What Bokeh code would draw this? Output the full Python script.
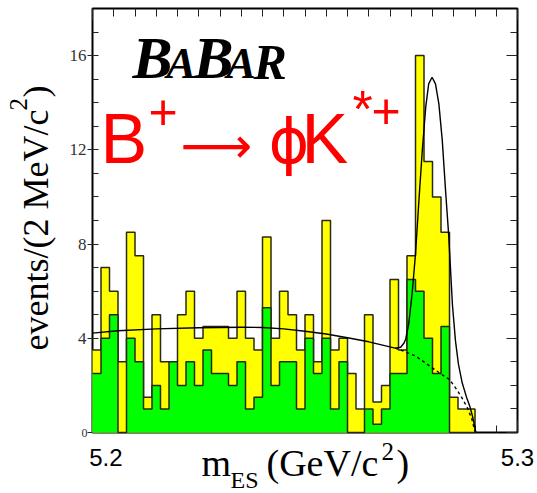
import math
import numpy as np
from bokeh.plotting import figure
from bokeh.models import Range1d, FixedTicker, LinearAxis, Label
from bokeh.embed import file_html
from bokeh.resources import INLINE

# ---------------- data ----------------
bin_lo = 5.200          # GeV/c^2
bin_width = 0.002       # 2 MeV/c^2
n_bins = 45

# all candidates (yellow)
yellow_counts = [3.5, 7, 6, 3, 8.5, 7.5, 1.5, 5, 3, 3,
                 5, 6, 4, 4.5, 4.5, 4.5, 4, 6, 4, 3.5,
                 8.3, 4, 6, 5, 3.5, 5, 3, 9, 3.5, 4,
                 2.5, 1, 5, 1.3, 2, 6.5, 3.5, 7.5, 16, 11.5,
                 10, 8.5, 1.5, 1, 1]
# subset (green)
green_counts = [2.5, 4, 5, 0, 4, 3, 1, 2, 1, 3,
                2, 3, 2, 3.5, 2.5, 2.5, 2, 3, 1, 1.5,
                5.3, 2, 3, 3, 1, 4, 2.5, 4, 1, 3,
                0, 0, 1, 0.35, 1, 2.5, 2.5, 6.5, 6, 4,
                2.5, 4.5, 0, 0, 0]

# fit: total (solid)
fit_mass = [5.2000, 5.2060, 5.2150, 5.2250, 5.2350, 5.2400, 5.2450, 5.2500, 5.2550, 5.2600,
            5.2650, 5.2690, 5.2712, 5.2725, 5.2733, 5.2737, 5.2744, 5.2752, 5.2760, 5.2768,
            5.2776, 5.2784, 5.2791, 5.2799, 5.2807, 5.2815, 5.2823, 5.2831, 5.2838, 5.2847,
            5.2854, 5.2861, 5.2870, 5.2880, 5.2888, 5.2894, 5.2900, 5.2902]
fit_total = [4.22, 4.32, 4.40, 4.45, 4.47, 4.46, 4.40, 4.30, 4.18, 4.02,
             3.85, 3.68, 3.58, 3.62, 3.80, 3.97, 4.60, 5.88, 7.58, 9.84,
             11.97, 13.80, 14.80, 15.08, 14.80, 13.95, 12.40, 10.20, 8.40, 5.40,
             3.90, 2.90, 2.10, 1.50, 1.10, 0.70, 0.20, 0.00]
# fit: background only (dashed)
bkg_mass = [5.2712, 5.2725, 5.2760, 5.2795, 5.2823, 5.2840, 5.2858, 5.2870, 5.2882, 5.2892, 5.2900]
bkg_only = [3.58, 3.50, 3.25, 2.80, 2.45, 2.25, 1.80, 1.45, 1.05, 0.60, 0.05]

y_major_ticks = [0, 4, 8, 12, 16]
y_minor_ticks = [1, 2, 3, 5, 6, 7, 9, 10, 11, 13, 14, 15, 17]
x_major_ticks = [5.2, 5.3]
x_minor_ticks = [5.205, 5.21, 5.215, 5.22, 5.225, 5.23, 5.235, 5.24, 5.245, 5.25,
                 5.255, 5.26, 5.265, 5.27, 5.275, 5.28, 5.285, 5.29, 5.295]
x_tick_labels = {5.2: "\u00a0\u00a0\u00a0\u00a05.2", 5.3: "5.3"}
y_tick_labels = {0: "", 4: "4", 8: "8", 12: "12", 16: "16"}

# ---------------- figure ----------------
FW, FH = 425, 424
X0, X1, Y0, Y1 = 5.2, 5.3, 0.0, 18.0
p = figure(frame_width=FW, frame_height=FH,
           min_border_left=92, min_border_right=20, min_border_top=8, min_border_bottom=61,
           x_range=Range1d(X0, X1), y_range=Range1d(Y0, Y1),
           x_axis_type=None, y_axis_type=None,
           output_backend="svg", toolbar_location=None)
p.xgrid.visible = False
p.ygrid.visible = False
p.outline_line_color = "black"
p.outline_line_width = 2
p.background_fill_color = "white"
p.border_fill_color = "white"

edges = bin_lo + bin_width * np.arange(n_bins + 1)

YEL = "#ffff00"
GRN = "#00ff00"
OUT = "#2a2a10"

p.varea_step(x=edges, y1=np.zeros(len(edges)), y2=list(yellow_counts) + [yellow_counts[-1]],
             step_mode="after", fill_color=YEL, level="annotation")
p.step(x=edges, y=list(yellow_counts) + [0], mode="after", line_color=OUT, line_width=1.5,
       level="annotation")
p.varea_step(x=edges, y1=np.zeros(len(edges)), y2=list(green_counts) + [green_counts[-1]],
             step_mode="after", fill_color=GRN, level="annotation")
p.step(x=edges, y=list(green_counts) + [0], mode="after", line_color=OUT, line_width=1.5,
       level="annotation")

p.line(fit_mass, fit_total, line_color="black", line_width=1.4, level="annotation")
p.line(bkg_mass, bkg_only, line_color="black", line_width=1.4, line_dash="3 3", level="annotation")

# ---------------- axes ----------------
yticker = FixedTicker(ticks=y_major_ticks, minor_ticks=y_minor_ticks)
xticker = FixedTicker(ticks=x_major_ticks, minor_ticks=x_minor_ticks)

left = LinearAxis(ticker=yticker, axis_line_color=None,
                  major_tick_in=6, major_tick_out=5, minor_tick_in=6, minor_tick_out=0,
                  major_tick_line_color="#222222", minor_tick_line_color="#222222",
                  major_label_overrides=y_tick_labels,
                  major_label_text_font="Liberation Serif", major_label_text_font_size="17px",
                  major_label_text_color="#333333", major_label_standoff=1)
p.add_layout(left, "left")

right = LinearAxis(ticker=yticker, axis_line_color=None,
                   major_tick_in=11, major_tick_out=0, minor_tick_in=7, minor_tick_out=0,
                   major_tick_line_color="#222222", minor_tick_line_color="#222222",
                   major_label_text_color=None, major_label_text_font_size="1px",
                   major_label_standoff=0)
p.add_layout(right, "right")

bottom = LinearAxis(ticker=xticker, axis_line_color=None,
                    major_tick_in=12, major_tick_out=0, minor_tick_in=7, minor_tick_out=0,
                    major_tick_line_color="#222222", minor_tick_line_color="#222222",
                    major_label_overrides=x_tick_labels,
                    major_label_text_font="Liberation Sans", major_label_text_font_size="24px",
                    major_label_text_color="black", major_label_standoff=11)
p.add_layout(bottom, "below")

top = LinearAxis(ticker=xticker, axis_line_color=None,
                 major_tick_in=12, major_tick_out=0, minor_tick_in=8, minor_tick_out=0,
                 major_tick_line_color="#222222", minor_tick_line_color="#222222",
                 major_label_text_color=None, major_label_text_font_size="1px",
                 major_label_standoff=0)
p.add_layout(top, "above")

# ---------------- texts ----------------
PX_X = (X1 - X0) / FW     # data units per pixel
PX_Y = (Y1 - Y0) / FH
K = 0.34                  # baseline correction (fraction of font size)

def lab(text, fx, base_up, size, font="Liberation Serif", style="normal", color="black",
        place=None):
    """Horizontal text. fx: px from frame left; base_up: baseline px above frame bottom."""
    lbl = Label(x=X0 + fx * PX_X, y=Y0 + (base_up + K * size) * PX_Y,
                x_units="data", y_units="data", text=text,
                text_font=font, text_font_size=f"{size}px", text_font_style=style,
                text_color=color, text_align="left", text_baseline="alphabetic")
    p.add_layout(lbl, place) if place else p.add_layout(lbl)

def vlab(text, base_fx, start_up, size, font="Liberation Serif"):
    """Text rotated 90 deg (reads upward). base_fx: baseline px from frame left (negative = left)."""
    lbl = Label(x=X0 + (base_fx - K * size) * PX_X, y=Y0 + start_up * PX_Y,
                x_units="data", y_units="data", text=text, angle=math.pi / 2,
                text_font=font, text_font_size=f"{size}px", text_color="black",
                text_align="left", text_baseline="alphabetic")
    p.add_layout(lbl, "below")   # side panel: drawn outside the frame without clipping

# small "0" tick label
lab("0", -11, -5, 12, color="#333333", place="below")

# y-axis title events/(2 MeV/c^2)
vlab("events/(2 MeV/c", -44, 82, 36)
vlab("2", -66, 322, 25)
vlab(")", -44, 335, 36)

# x-axis title  m_ES (GeV/c^2)
lab("m", 109, -43, 38, place="below")
lab("ES", 138, -56, 24, place="below")
lab("(GeV/c", 174, -43, 38, place="below")
lab("2", 289, -27, 25, place="below")
lab(")", 304, -43, 38, place="below")

# BaBar logo
lab("B", 40, 354, 60, style="bold italic")
lab("A", 74, 354, 44, style="bold italic")
lab("B", 101, 354, 60, style="bold italic")
lab("A", 134, 354, 44, style="bold italic")
lab("R", 161, 354, 50, style="bold italic")

# decay label
RED = "#ff0000"
lab("B", 8, 270, 70, font="Liberation Sans", color=RED)
lab("+", 56, 304, 50, font="Liberation Sans", color=RED)
lab("\u27f6", 88, 270, 50, font="DejaVu Sans", color=RED)
lab("\u03d5", 176, 270, 62, font="DejaVu Sans", color=RED)
lab("K", 209, 270, 70, font="Liberation Sans", color=RED)
lab("*", 260, 306, 52, font="Liberation Sans", color=RED)
lab("+", 279, 305, 50, font="Liberation Sans", color=RED)

open("out.html", "w").write(file_html(p, INLINE))
